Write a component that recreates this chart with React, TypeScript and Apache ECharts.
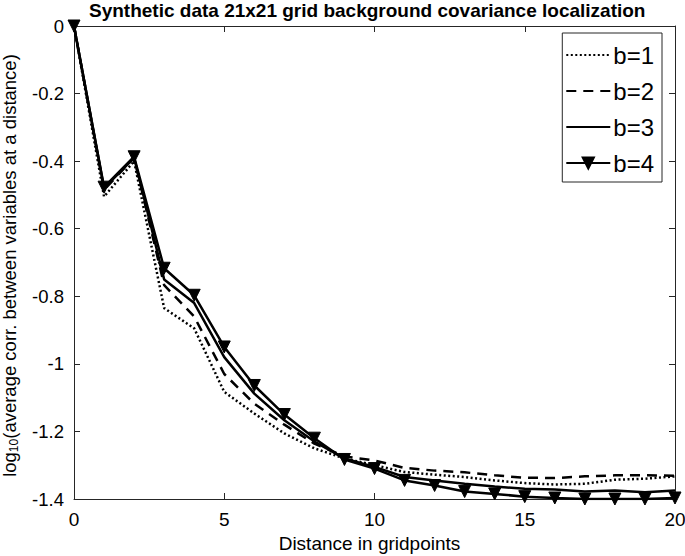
import React, { useEffect, useRef } from "react";
import * as echarts from "echarts";

const distances = [0, 1, 2, 3, 4, 5, 6, 7, 8, 9, 10, 11, 12, 13, 14, 15, 16, 17, 18, 19, 20];
const b1 = [0, -0.505, -0.4, -0.835, -0.895, -1.083, -1.147, -1.206, -1.25, -1.28, -1.3, -1.32, -1.328, -1.335, -1.345, -1.353, -1.357, -1.355, -1.343, -1.34, -1.333];
const b2 = [0, -0.485, -0.39, -0.767, -0.86, -1.03, -1.118, -1.18, -1.236, -1.274, -1.286, -1.308, -1.316, -1.321, -1.33, -1.337, -1.338, -1.333, -1.33, -1.33, -1.331];
const b3 = [0, -0.48, -0.39, -0.75, -0.82, -0.98, -1.088, -1.167, -1.23, -1.28, -1.305, -1.335, -1.345, -1.355, -1.363, -1.37, -1.372, -1.378, -1.375, -1.38, -1.375];
const b4 = [0, -0.477, -0.387, -0.717, -0.797, -0.95, -1.064, -1.15, -1.22, -1.283, -1.31, -1.345, -1.36, -1.378, -1.385, -1.393, -1.397, -1.4, -1.4, -1.4, -1.397];
const seriesNames = ["b=1", "b=2", "b=3", "b=4"];

const FONT = "'Liberation Sans', Arial, Helvetica, sans-serif";
const AXIS_COLOR = "#262626";

export default function App() {
  const ref = useRef<HTMLDivElement>(null);
  useEffect(() => {
    document.body.style.margin = "0";
    const chart = echarts.init(ref.current!, null, { renderer: "svg" });
    const pts = (arr: number[]) => distances.map((d, i) => [d, arr[i]]);
    const axisCommon = {
      axisLine: { show: true, onZero: false, lineStyle: { color: AXIS_COLOR, width: 1 } },
      axisTick: { show: true, inside: true, length: 6, lineStyle: { color: AXIS_COLOR } },
      splitLine: { show: false },
    };
    const plainLine = (name: string, arr: number[], type: any) => ({
      name,
      type: "line",
      data: pts(arr),
      showSymbol: false,
      symbol: "circle",
      symbolSize: 0,
      lineStyle: { color: "#000", width: 2.5, type },
      itemStyle: { color: "rgba(0,0,0,0)", borderWidth: 0 },
    });
    chart.setOption({
      animation: false,
      backgroundColor: "#fff",
      textStyle: { fontFamily: FONT },
      title: {
        text: "Synthetic data 21x21 grid background covariance localization",
        left: 89,
        top: 1,
        padding: 0,
        textStyle: { fontFamily: FONT, fontWeight: "bold", fontSize: 19, color: "#000" },
      },
      grid: { left: 74, right: 10, top: 26, bottom: 57, containLabel: false, outerBoundsMode: "none" },
      legend: {
        orient: "vertical",
        right: 23,
        top: 33,
        backgroundColor: "#fff",
        borderColor: AXIS_COLOR,
        borderWidth: 1,
        padding: [9, 8, 6, 3],
        itemWidth: 44,
        itemHeight: 14,
        itemGap: 10,
        data: seriesNames,
        textStyle: { fontFamily: FONT, fontSize: 24, color: "#000", lineHeight: 26, padding: [0, 0, 0, -2] },
      },
      xAxis: [
        {
          type: "value",
          min: 0,
          max: 20,
          interval: 5,
          position: "bottom",
          name: "Distance in gridpoints",
          nameLocation: "middle",
          nameGap: 29,
          nameTextStyle: { fontFamily: FONT, fontSize: 19, color: "#000", padding: [0, 10, 0, 0] },
          axisLabel: { fontFamily: FONT, fontSize: 19, color: "#000", margin: 11 },
          ...axisCommon,
        },
        {
          type: "value",
          min: 0,
          max: 20,
          interval: 5,
          position: "top",
          axisLabel: { show: false },
          ...axisCommon,
        },
      ],
      yAxis: [
        {
          type: "value",
          min: -1.4,
          max: 0,
          interval: 0.2,
          position: "left",
          name: "{a|log}{s|10}{a|(average corr. between variables at a distance)}",
          nameLocation: "middle",
          nameGap: 54,
          nameTextStyle: {
            padding: [0, 6, 0, 0],
            rich: {
              a: { fontFamily: FONT, fontSize: 18.5, color: "#000", lineHeight: 22, verticalAlign: "middle" },
              s: { fontFamily: FONT, fontSize: 12, color: "#000", lineHeight: 10, verticalAlign: "bottom" },
            },
          },
          axisLabel: {
            fontFamily: FONT,
            fontSize: 18.5,
            color: "#000",
            margin: 10,
            padding: [6, 0, 0, 0],
            formatter: (v: number) => (Math.abs(v) < 1e-9 ? "0" : String(Math.round(v * 10) / 10)),
          },
          ...axisCommon,
        },
        {
          type: "value",
          min: -1.4,
          max: 0,
          interval: 0.2,
          position: "right",
          axisLabel: { show: false },
          ...axisCommon,
        },
      ],
      series: [
        plainLine("b=1", b1, [2, 2.5]),
        plainLine("b=2", b2, [10, 7]),
        plainLine("b=3", b3, "solid"),
        {
          name: "b=4",
          type: "line",
          data: pts(b4),
          symbol: "triangle",
          symbolRotate: 180,
          symbolSize: 12,
          lineStyle: { color: "#000", width: 2.5 },
          itemStyle: { color: "#000", borderColor: "#000", borderWidth: 1 },
        },
      ],
    });
    return () => chart.dispose();
  }, []);
  return <div ref={ref} style={{ width: 685, height: 556, position: "absolute", left: 0, top: 0 }} />;
}
